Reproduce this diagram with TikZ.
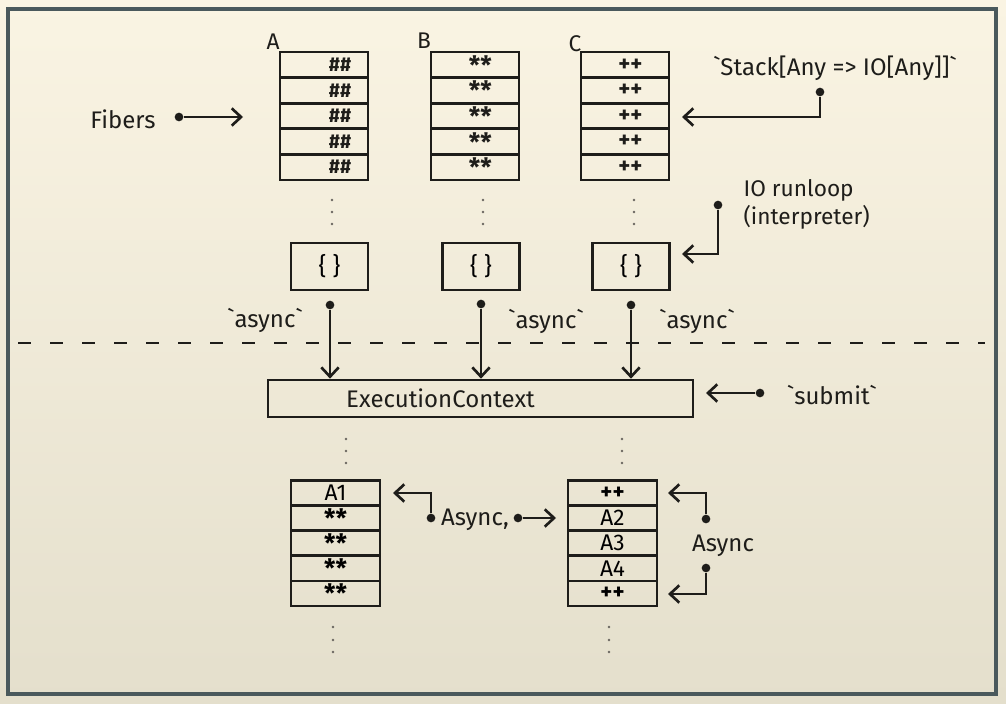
\documentclass[tikz,border=0pt]{standalone}
\usepackage{fontspec}
\setmainfont{Fira Sans}
\usetikzlibrary{arrows.meta,calc}
\definecolor{ink}{HTML}{1E1D1A}
\definecolor{paperT}{HTML}{FAF4E3}
\definecolor{paperB}{HTML}{E4DFCC}
\definecolor{framec}{HTML}{4A595C}
\definecolor{dotc}{HTML}{6A6660}
\newcommand{\bq}{\textasciigrave}
\newcommand{\stars}{{\fontsize{19}{19}\selectfont\bfseries\raisebox{-0.3em}{**}}}
\newcommand{\pluses}{{\fontsize{17}{17}\selectfont\bfseries ++}}
\tikzset{
  ink/.style={color=ink, line width=2pt},
  row/.style={draw=ink, line width=2pt, rectangle, minimum width=66pt, minimum height=19.2pt, inner sep=0pt, outer sep=0pt},
  rowtxt/.style={text=ink, inner sep=0pt, font=\fontsize{15}{17}\selectfont\bfseries},
  lrow/.style={row, minimum width=66.75pt, minimum height=18.9pt, font=\fontsize{17}{19}\selectfont},
  codebox/.style={draw=ink, line width=2pt, rectangle, minimum width=57.75pt, minimum height=35.25pt, inner sep=0pt, font=\fontsize{18}{20}\selectfont},
  ecbox/.style={draw=ink, line width=2pt, rectangle, minimum width=318.75pt, minimum height=27.75pt, inner sep=0pt},
  txt/.style={text=ink, font=\fontsize{18}{21}\selectfont, inner sep=1pt},
  lbl/.style={text=ink, font=\fontsize{17}{19}\selectfont, inner sep=1pt},
  bullet/.style={circle, fill=ink, inner sep=0pt, minimum size=6.5pt},
  pdot/.style={circle, fill=dotc, inner sep=0pt, minimum size=2.2pt},
  arr/.style={ink, -{Straight Barb[length=7pt,width=13pt]}},
}
\begin{document}
\begin{tikzpicture}[x=0.75pt,y=-0.75pt]
\useasboundingbox (0,0) rectangle (1006,703);
\shade[top color=paperT, bottom color=paperB] (0,0) rectangle (1006,703);
\draw[framec, line width=2.4pt] (8,9) rectangle (996,694);

% top stacks
\foreach \r [count=\i] in {64.8,90.4,116,141.6,167.2}{
  \node[row, label={[xshift=12pt,rowtxt]center:\#\#}] (a\i) at (324,\r) {};
  \node[row, label={[xshift=4pt,rowtxt]center:\stars}] (b\i) at (475,\r) {};
  \node[row, label={[xshift=4pt,rowtxt]center:\pluses}] (c\i) at (625,\r) {};
}
\node[lbl] (la) at (273,42) {A};
\node[lbl] (lb) at (424,41) {B};
\node[lbl] (lc) at (575,44) {C};

% dots under stacks
\foreach \x in {332,483,634}{
  \foreach \y in {200,212,224} \node[pdot] at (\x,\y) {};
}

% code boxes
\node[codebox] (ca) at (329.5,266.5) {\{ \}};
\node[codebox] (cb) at (481,266.5) {\{ \}};
\node[codebox] (cc) at (631,266.5) {\{ \}};

% Fibers
\node[txt] (fibers) at (123,119) {Fibers};
\node[bullet] (fdot) at (179,117) {};
\coordinate (fend) at (243,117);
\draw[arr] (fdot) -- (fend);

% Stack label
\node[txt] (stk) at (835,68) {\bq Stack[Any => IO[Any]]\bq};
\node[bullet] (sdot) at (820,92) {};
\coordinate (send) at (682,117);
\draw[arr] (sdot) |- (send);

% IO runloop
\node[txt, anchor=west, align=left, font=\fontsize{17}{21}\selectfont] (io) at (742,204) {IO runloop\\(interpreter)};
\node[bullet] (idot) at (718,205) {};
\coordinate (iend) at (682,254);
\draw[arr] (idot) |- (iend);

% dashed separator
\coordinate (dl) at (18,343);
\coordinate (dr) at (985,343);
\draw[ink, dash pattern=on 10pt off 14pt] (dl) -- (dr);

% ExecutionContext
\node[ecbox, label={[xshift=-30pt,txt]center:ExecutionContext}] (ec) at (480.5,398.5) {};

% async arrows
\node[bullet] (ad1) at (330,305) {};
\node[bullet] (ad2) at (481,304) {};
\node[bullet] (ad3) at (631,305) {};
\foreach \i in {1,2,3} \draw[arr] (ad\i) -- (ad\i |- ec.north);
\node[txt] (as1) at (265,320) {\bq async\bq};
\node[txt] (as2) at (546,321) {\bq async\bq};
\node[txt] (as3) at (697,321) {\bq async\bq};

% submit
\node[txt] (sub) at (832,395) {\bq submit\bq};
\node[bullet] (subdot) at (760,393) {};
\coordinate (subend) at (706,393);
\draw[arr] (subdot) -- (subend);

% dots under EC
\foreach \x in {346,622}{
  \foreach \y in {439,451,463} \node[pdot] at (\x,\y) {};
}

% bottom stacks
\foreach \t [count=\i] in {A1,\stars,\stars,\stars,\stars}{
  \node[lrow] (l\i) at (335.5,{480.5+25.1*(\i-0.5)}) {\t};
}
\foreach \t [count=\i] in {\pluses,A2,A3,A4,\pluses}{
  \node[lrow] (r\i) at (612.5,{480.5+25.1*(\i-0.5)}) {\t};
}
\foreach \x in {333,609}{
  \foreach \y in {627,640,652} \node[pdot] at (\x,\y) {};
}

% Async, (middle)
\node[txt] (asyncm) at (475,520) {Async,};
\node[bullet] (mdl) at (431,518) {};
\coordinate (mdlend) at (393,493);
\draw[arr] (mdl) |- (mdlend);
\node[bullet] (mdr) at (518,518) {};
\coordinate (mdrend) at (556,518);
\draw[arr] (mdr) -- (mdrend);

% Async (right)
\node[txt] (asyncr) at (723,546) {Async};
\node[bullet] (rdu) at (706,519) {};
\coordinate (rduend) at (668,493);
\draw[arr] (rdu) |- (rduend);
\node[bullet] (rdd) at (706,568) {};
\coordinate (rddend) at (668,594);
\draw[arr] (rdd) |- (rddend);
\end{tikzpicture}
\end{document}
